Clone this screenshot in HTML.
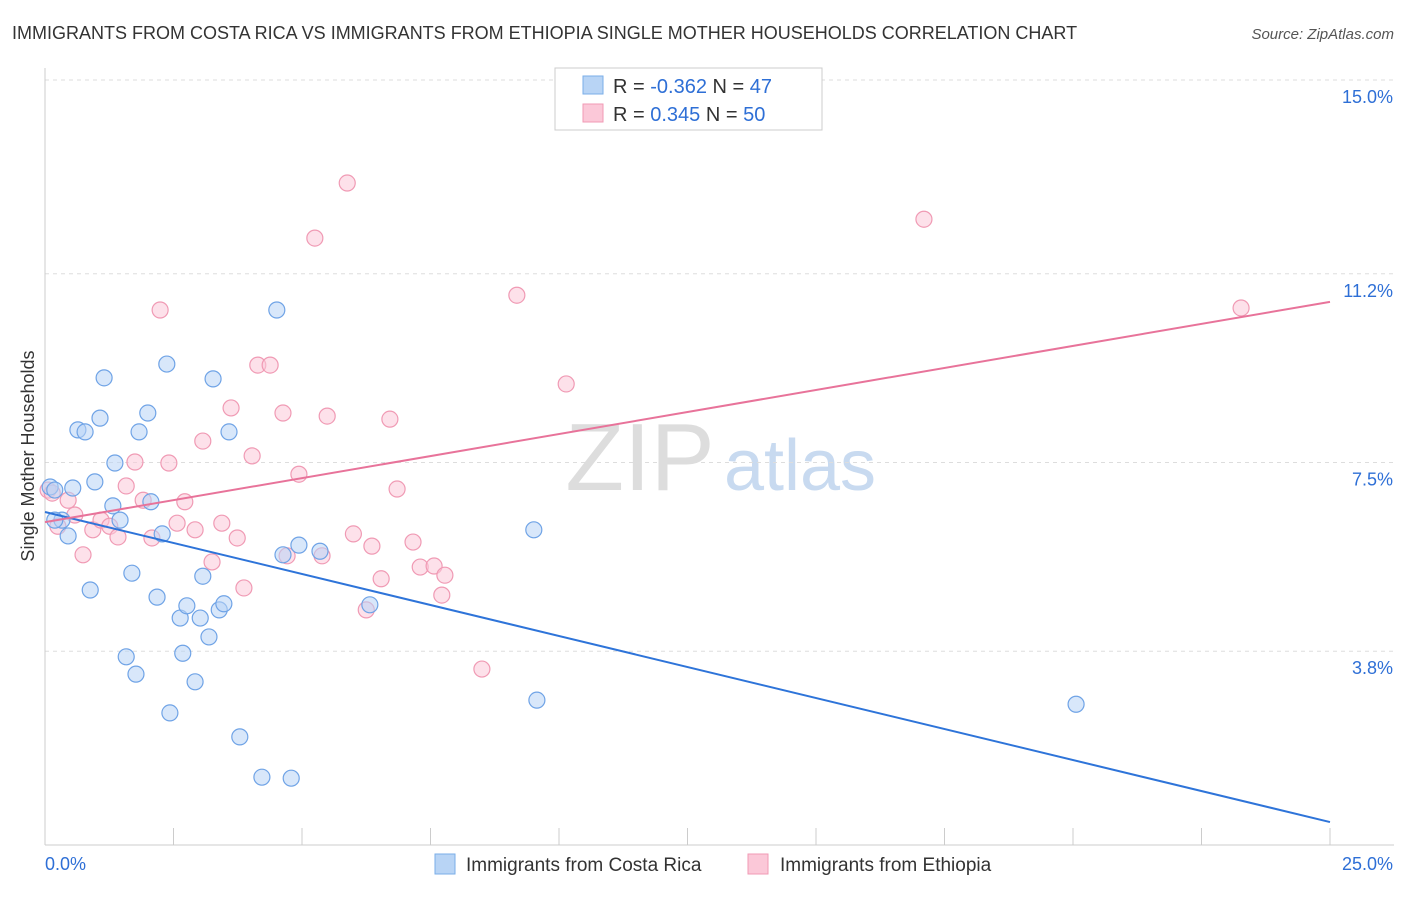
<!DOCTYPE html>
<html><head><meta charset="utf-8"><style>
body{margin:0;background:#fff;font-family:"Liberation Sans",sans-serif;}
svg text{font-family:"Liberation Sans",sans-serif;}
</style></head><body>
<svg id="c" width="1406" height="892">
<text x="12" y="39" font-size="18" fill="#333">IMMIGRANTS FROM COSTA RICA VS IMMIGRANTS FROM ETHIOPIA SINGLE MOTHER HOUSEHOLDS CORRELATION CHART</text>
<text x="1394" y="39" font-size="15" fill="#555" text-anchor="end" font-style="italic">Source: ZipAtlas.com</text>
<text x="640" y="490" font-size="96" fill="#ddd" font-family="Liberation Serif" text-anchor="middle">ZIP</text>
<text x="800" y="490" font-size="72" fill="#c8daf0" text-anchor="middle">atlas</text>
<text transform="translate(34,456) rotate(-90)" font-size="18" fill="#333" text-anchor="middle">Single Mother Households</text>
<g id="grid"></g><g id="marks"></g>
<g>
<rect x="555" y="68" width="267" height="62" fill="#fff" stroke="#ccc"/>
<rect x="583" y="76" width="20" height="18" fill="#b8d4f5" stroke="#7aaee8"/>
<rect x="583" y="104" width="20" height="18" fill="#fbc8d8" stroke="#f09ab4"/>
<text x="613" y="93" font-size="20" fill="#333">R = <tspan fill="#2e6fd6">-0.362</tspan>   N = <tspan fill="#2e6fd6">47</tspan></text>
<text x="613" y="121" font-size="20" fill="#333">R =  <tspan fill="#2e6fd6">0.345</tspan>   N = <tspan fill="#2e6fd6">50</tspan></text>
</g>
<g>
<rect x="435" y="854" width="20" height="20" fill="#b8d4f5" stroke="#7aaee8"/>
<text x="466" y="871" font-size="19" fill="#333">Immigrants from Costa Rica</text>
<rect x="748" y="854" width="20" height="20" fill="#fbc8d8" stroke="#f09ab4"/>
<text x="780" y="871" font-size="19" fill="#333">Immigrants from Ethiopia</text>
</g>
</svg>
<script>
const yTicks=[15.0,11.2,7.5,3.8];
const yTickLabels=["15.0%","11.2%","7.5%","3.8%"];
const xTickCount=10;
const xLabels=["0.0%","25.0%"];
const blueX=[0.10,0.19,0.33,0.45,0.54,0.64,0.78,0.88,0.97,1.07,1.15,1.32,1.36,1.46,1.58,1.69,1.77,1.83,2.00,2.06,2.18,2.28,2.37,2.43,2.63,2.68,2.76,2.92,3.02,3.07,3.19,3.27,3.39,3.48,3.58,3.79,4.22,4.51,4.63,4.79,4.94,5.35,6.32,9.51,9.57,20.06,0.19];
const blueY=[7.02,6.96,6.37,6.06,7.00,8.14,8.10,5.00,7.12,8.37,9.16,6.65,7.49,6.37,3.69,5.33,3.35,8.10,8.47,6.73,4.86,6.10,9.43,2.59,4.45,3.76,4.69,3.20,4.45,5.27,4.08,9.14,4.61,4.73,8.10,2.12,1.33,10.49,5.69,1.31,5.88,5.76,4.71,6.18,2.84,2.76,6.37];
const pinkX=[0.06,0.14,0.25,0.45,0.58,0.74,0.93,1.09,1.26,1.42,1.58,1.75,1.91,2.08,2.24,2.41,2.57,2.72,2.92,3.07,3.25,3.44,3.62,3.74,3.87,4.03,4.14,4.38,4.63,4.71,4.94,5.25,5.39,5.49,5.88,6.00,6.25,6.36,6.54,6.71,6.85,7.16,7.30,7.57,7.72,7.78,8.50,9.18,10.14,17.10,23.27];
const pinkY=[6.96,6.90,6.25,6.76,6.47,5.69,6.18,6.37,6.25,6.04,7.04,7.51,6.76,6.02,10.49,7.49,6.31,6.73,6.18,7.92,5.55,6.31,8.57,6.02,5.04,7.63,9.41,9.41,8.47,5.67,7.27,11.90,5.67,8.41,12.98,6.10,4.61,5.86,5.22,8.35,6.98,5.94,5.45,5.47,4.90,5.29,3.45,10.78,9.04,12.27,10.53];
const blueTrend=[6.53,0.45];
const pinkTrend=[6.33,10.65];
const NS="http://www.w3.org/2000/svg";
const X0=45,X1=1330,XMAX=25,YB=845,YTOP=80;
function sx(v){return X0+(X1-X0)*v/XMAX;}
function sy(v){return YB-(YB-YTOP)*v/15;}
function mk(t,a,p){const e=document.createElementNS(NS,t);for(const k in a)e.setAttribute(k,a[k]);p.appendChild(e);return e;}
const g=document.getElementById('grid'),m=document.getElementById('marks');
yTicks.forEach((v,i)=>{
 const l=mk('line',{x1:X0,x2:1394,y1:sy(v),y2:sy(v),stroke:'#ddd','stroke-dasharray':'4,4'},g);
 
 
 const t=mk('text',{x:1393,y:sy(v)+23,'font-size':18,fill:'#2e6fd6','text-anchor':'end'},g);
 t.textContent=yTickLabels[i];
 
 
});
const ax=mk('line',{x1:X0,x2:1394,y1:YB,y2:YB,stroke:'#ccc'},g);


const ay=mk('line',{x1:X0,x2:X0,y1:68,y2:YB,stroke:'#ccc'},g);


for(let i=1;i<=xTickCount;i++){const v=XMAX*i/xTickCount;
 const t=mk('line',{x1:sx(v),x2:sx(v),y1:YB,y2:YB-17,stroke:'#ccc'},g);
 
 }
[[0,'start',45],[XMAX,'end',1393]].forEach((a,i)=>{
 const t=mk('text',{x:a[2],y:870,'font-size':18,fill:'#2e6fd6','text-anchor':a[1]},g);
 t.textContent=xLabels[i];
 
 });
function pts(xs,ys,fill,stroke,name){xs.forEach((x,i)=>{
 const c=mk('circle',{cx:sx(x),cy:sy(ys[i]),r:8,fill:fill,'fill-opacity':0.55,stroke:stroke,'stroke-width':1.2},m);
 
 });}
pts(pinkX,pinkY,'#fbc8d8','#f09ab4','ethiopia-point');
pts(blueX,blueY,'#b8d4f5','#6fa3e6','costa-rica-point');
const bt=mk('line',{x1:sx(0),y1:sy(blueTrend[0]),x2:sx(XMAX),y2:sy(blueTrend[1]),stroke:'#2e74d9','stroke-width':2},m);


const pt=mk('line',{x1:sx(0),y1:sy(pinkTrend[0]),x2:sx(XMAX),y2:sy(pinkTrend[1]),stroke:'#e8739a','stroke-width':2},m);


</script>
</body></html>
